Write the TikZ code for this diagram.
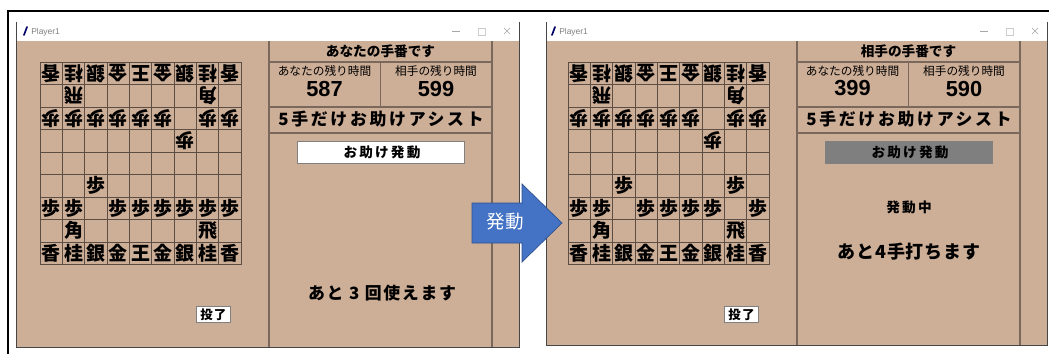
\documentclass[tikz,border=0pt]{standalone}
\usepackage{fontspec}
\setmainfont{Noto Sans CJK JP}
\newfontfamily\latin{Liberation Sans}
\newcommand{\fs}[1]{\fontsize{#1}{#1}\selectfont}
\newcommand{\sq}[2]{({40+(#2+0.5)*22.35},{62+(#1+0.5)*22.5})}
\definecolor{banbg}{RGB}{205,174,151}
\definecolor{banline}{RGB}{92,78,68}
\definecolor{paneline}{RGB}{122,104,92}
\definecolor{winedge}{RGB}{70,70,70}
\definecolor{hilite}{RGB}{128,129,120}
\definecolor{btngray}{RGB}{127,127,127}
\definecolor{arrowblue}{RGB}{68,114,196}
\definecolor{arrowedge}{RGB}{47,82,143}
\tikzset{
  outerline/.style={line width=1pt},
  window/.style={fill=banbg, draw=winedge, line width=0.7pt},
  titlebar/.style={fill=white},
  cell/.style={draw=banline, line width=0.6pt},
  panel/.style={draw=paneline, line width=0.8pt},
  piece/.style={font=\bfseries\fs{13.5}, inner sep=0pt},
  gotepiece/.style={piece, rotate=180},
  head/.style={font=\bfseries\fs{9.7}, inner sep=0pt},
  timelabel/.style={font=\fs{8.3}, inner sep=0pt},
  timenum/.style={font=\latin\bfseries\fs{15.5}, inner sep=0pt},
  assist/.style={font=\bfseries\fs{12}\addfontfeatures{LetterSpace=16}, inner sep=0pt},
  btn/.style={draw=gray, line width=0.7pt},
  btntext/.style={font=\bfseries\fs{9.7}\addfontfeatures{LetterSpace=16}, inner sep=0pt},
  msg/.style={font=\bfseries\fs{12}\addfontfeatures{LetterSpace=10}, inner sep=0pt}
}

\begin{document}
\begin{tikzpicture}[x=0.025cm,y=-0.025cm]
  \def\cw{22.35}
  \def\ch{22.5}
  \useasboundingbox (0,0) rectangle (1049,354);
  \draw[outerline] (8,354) -- (8,11) -- (1049,11);

  % both windows
  \foreach \w/\dx/\wl/\wb/\turn/\mine/\theirs/\bfill in
    {L/0/16/347/あなたの手番です/587/599/white,
     R/528/18/345/相手の手番です/399/590/btngray}
  {
   \begin{scope}[xshift=\dx*0.025cm]
    \draw[window] (\wl,22) rectangle (519,\wb);
    \fill[titlebar] (\wl+0.5,22.5) rectangle (518.5,41);
    \draw[line width=1.2pt, blue!40!black, line cap=round] (24,35) -- (27,27);
    \node[font=\latin\fs{6}, text=gray, anchor=west, inner sep=0pt] (\w-title) at (31,32) {Player1};
    \draw[gray!70] (452,31) -- (460,31);
    \draw[gray!40] (478,28) rectangle (485,35);
    \draw[gray!70] (504,28) -- (510,34) (504,34) -- (510,28);
    % highlight of the last move
    \ifx\w L \fill[hilite] (174.15,129.5) rectangle (196.5,152); \fi
    % board
    \foreach \i in {0,...,9}{
      \draw[cell] ({40+\i*\cw},62) -- ({40+\i*\cw},264.5);
      \draw[cell] (40,{62+\i*\ch}) -- (241.15,{62+\i*\ch});
    }
    \foreach \k [count=\c from 0] in {香,桂,銀,金,王,金,銀,桂,香}{
      \node[gotepiece] (\w-0-\c) at \sq{0}{\c} {\k};
      \node[piece] (\w-8-\c) at \sq{8}{\c} {\k};
    }
    \node[gotepiece] (\w-1-1) at \sq{1}{1} {飛};
    \node[gotepiece] (\w-1-7) at \sq{1}{7} {角};
    \foreach \c in {0,1,2,3,4,5,7,8}
      \node[gotepiece] (\w-2-\c) at \sq{2}{\c} {歩};
    \node[gotepiece] (\w-3-6) at \sq{3}{6} {歩};
    \node[piece] (\w-5-2) at \sq{5}{2} {歩};
    \foreach \c in {0,1,3,4,5,6,8}
      \node[piece] (\w-6-\c) at \sq{6}{\c} {歩};
    \node[piece] (\w-7-1) at \sq{7}{1} {角};
    \node[piece] (\w-7-7) at \sq{7}{7} {飛};
    % side panel
    \draw[panel] (269,41) -- (269,\wb) (492,41) -- (492,\wb);
    \draw[panel] (269,62) -- (492,62) (269,107) -- (492,107) (269,133) -- (492,133);
    \draw[panel] (380.5,62) -- (380.5,107);
    \node[head] (\w-turn) at (380.5,51.5) {\turn};
    \node[timelabel] (\w-mylabel) at (324.5,71) {あなたの残り時間};
    \node[timenum] (\w-mytime) at (324.5,88.5) {\mine};
    \node[timelabel] (\w-oplabel) at (436,71) {相手の残り時間};
    \node[timenum] (\w-optime) at (436,88.5) {\theirs};
    \node[assist] (\w-assist) at (381,119.5) {5手だけお助けアシスト};
    \draw[btn, fill=\bfill] (297,141) rectangle (464,163);
    \node[btntext] (\w-help) at (382,152) {お助け発動};
    \draw[btn, fill=white] (196,306.5) rectangle (230,322.5);
    \node[btntext, font=\bfseries\fs{8.9}\addfontfeatures{LetterSpace=8}] (\w-resign) at (213.5,314.5) {投了};
   \end{scope}
  }

  % differences between the two positions
  \node[piece] (L-6-7) at \sq{6}{7} {歩};
  \begin{scope}[xshift=13.2cm]
    \node[piece] (R-5-7) at \sq{5}{7} {歩};
  \end{scope}

  \node[msg] (L-left) at (382,293) {あと 3 回使えます};
  \node[btntext] (R-active) at (909,207) {発動中};
  \node[msg, font=\bfseries\fs{12.8}\addfontfeatures{LetterSpace=5}] (R-left) at (909,252) {あと4手打ちます};

  % block arrow
  \draw[fill=arrowblue, draw=arrowedge, line width=0.5pt]
    (472,203) -- (522,203) -- (522,184) -- (562,223) -- (522,262) -- (522,243) -- (472,243) -- cycle;
  \node[font=\fs{13.2}, text=white, inner sep=0pt] (go) at (505,222) {発動};
\end{tikzpicture}
\end{document}
